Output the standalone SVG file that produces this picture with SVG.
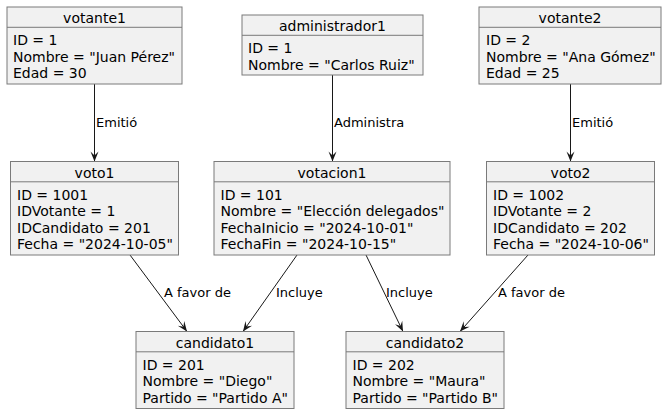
<svg xmlns="http://www.w3.org/2000/svg" width="667" height="414" viewBox="0 0 667 414">
<style>
.box{fill:#F1F1F1;stroke:#7a7a7a;stroke-width:1}
.sep{stroke:#7a7a7a;stroke-width:1}
.t{font-family:"DejaVu Sans",sans-serif;font-size:14px;fill:#000}
.n{text-anchor:middle}
.l{font-family:"DejaVu Sans",sans-serif;font-size:13px;fill:#000}
.e{stroke:#181818;stroke-width:1;fill:none;marker-end:url(#ah)}
</style>
<defs>
<marker id="ah" markerUnits="userSpaceOnUse" viewBox="-11 -5 12 10" refX="0" refY="0" markerWidth="12" markerHeight="10" orient="auto">
<path d="M0,0 L-10,-4 L-6,0 L-10,4 Z" fill="#181818"/>
</marker>
</defs>
<rect width="667" height="414" fill="#fff"/>
<g id="connectors">
<line class="e" x1="94.5" y1="84" x2="94.5" y2="161.5"/>
<text class="l" x="96" y="127">Emitió</text>
<line class="e" x1="332.5" y1="75" x2="332.5" y2="161.5"/>
<text class="l" x="334" y="127">Administra</text>
<line class="e" x1="570.5" y1="84" x2="570.5" y2="161.5"/>
<text class="l" x="572" y="127">Emitió</text>
<line class="e" x1="130" y1="255" x2="187" y2="331.5"/>
<text class="l" x="164" y="297">A favor de</text>
<line class="e" x1="297" y1="255" x2="243" y2="331.5"/>
<text class="l" x="276" y="297">Incluye</text>
<line class="e" x1="366" y1="255" x2="403" y2="331.5"/>
<text class="l" x="386" y="297">Incluye</text>
<line class="e" x1="528" y1="255" x2="460" y2="331.5"/>
<text class="l" x="498" y="297">A favor de</text>
</g>
<g id="votante1">
<rect class="box" x="7" y="7" width="175" height="77"/>
<line class="sep" x1="7" y1="27.3" x2="182" y2="27.3"/>
<text class="t n" x="94.5" y="23">votante1</text>
<text class="t" x="13" y="45">ID = 1</text>
<text class="t" x="13" y="61.5">Nombre = "Juan Pérez"</text>
<text class="t" x="13" y="78">Edad = 30</text>
</g>
<g id="administrador1">
<rect class="box" x="242" y="15" width="181" height="60"/>
<line class="sep" x1="242" y1="35.3" x2="423" y2="35.3"/>
<text class="t n" x="332.5" y="31">administrador1</text>
<text class="t" x="248" y="53">ID = 1</text>
<text class="t" x="248" y="69.5">Nombre = "Carlos Ruiz"</text>
</g>
<g id="votante2">
<rect class="box" x="479" y="7" width="182" height="77"/>
<line class="sep" x1="479" y1="27.3" x2="661" y2="27.3"/>
<text class="t n" x="570" y="23">votante2</text>
<text class="t" x="486" y="45">ID = 2</text>
<text class="t" x="486" y="61.5">Nombre = "Ana Gómez"</text>
<text class="t" x="486" y="78">Edad = 25</text>
</g>
<g id="voto1">
<rect class="box" x="10.5" y="161.5" width="168" height="93.5"/>
<line class="sep" x1="10.5" y1="181.8" x2="178.5" y2="181.8"/>
<text class="t n" x="94.5" y="177.5">voto1</text>
<text class="t" x="17" y="199.5">ID = 1001</text>
<text class="t" x="17" y="216">IDVotante = 1</text>
<text class="t" x="17" y="232.5">IDCandidato = 201</text>
<text class="t" x="17" y="249">Fecha = "2024-10-05"</text>
</g>
<g id="votacion1">
<rect class="box" x="214" y="161.5" width="236" height="93.5"/>
<line class="sep" x1="214" y1="181.8" x2="450" y2="181.8"/>
<text class="t n" x="332" y="177.5">votacion1</text>
<text class="t" x="220.5" y="199.5">ID = 101</text>
<text class="t" x="220.5" y="216">Nombre = "Elección delegados"</text>
<text class="t" x="220.5" y="232.5">FechaInicio = "2024-10-01"</text>
<text class="t" x="220.5" y="249">FechaFin = "2024-10-15"</text>
</g>
<g id="voto2">
<rect class="box" x="486.5" y="161.5" width="168" height="93.5"/>
<line class="sep" x1="486.5" y1="181.8" x2="654.5" y2="181.8"/>
<text class="t n" x="570.5" y="177.5">voto2</text>
<text class="t" x="493" y="199.5">ID = 1002</text>
<text class="t" x="493" y="216">IDVotante = 2</text>
<text class="t" x="493" y="232.5">IDCandidato = 202</text>
<text class="t" x="493" y="249">Fecha = "2024-10-06"</text>
</g>
<g id="candidato1">
<rect class="box" x="136" y="331.5" width="158" height="77"/>
<line class="sep" x1="136" y1="351.8" x2="294" y2="351.8"/>
<text class="t n" x="215" y="347.5">candidato1</text>
<text class="t" x="142.5" y="369.5">ID = 201</text>
<text class="t" x="142.5" y="386">Nombre = "Diego"</text>
<text class="t" x="142.5" y="402.5">Partido = "Partido A"</text>
</g>
<g id="candidato2">
<rect class="box" x="346" y="331.5" width="158" height="77"/>
<line class="sep" x1="346" y1="351.8" x2="504" y2="351.8"/>
<text class="t n" x="425" y="347.5">candidato2</text>
<text class="t" x="352.5" y="369.5">ID = 202</text>
<text class="t" x="352.5" y="386">Nombre = "Maura"</text>
<text class="t" x="352.5" y="402.5">Partido = "Partido B"</text>
</g>
</svg>
